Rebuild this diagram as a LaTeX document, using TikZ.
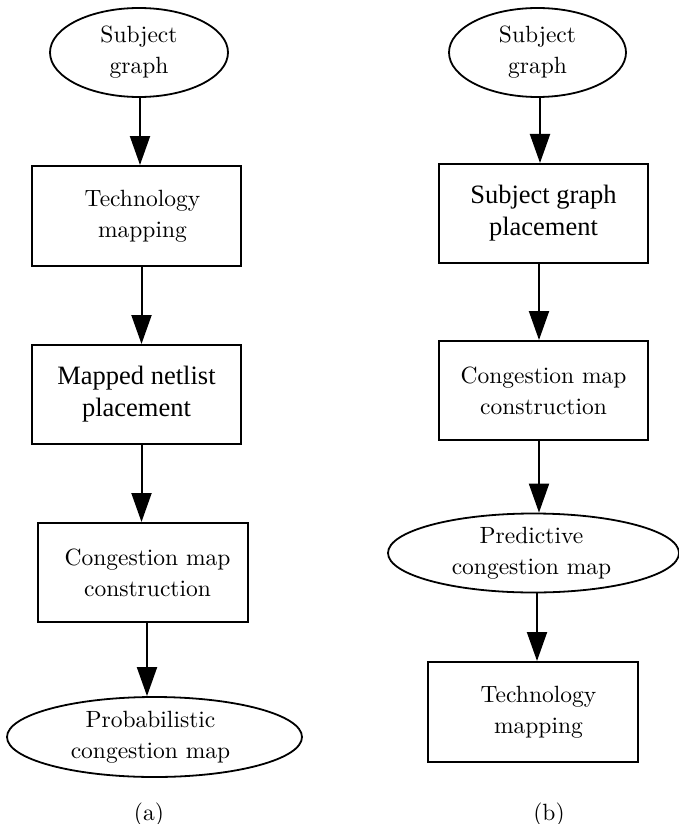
\documentclass[tikz,border=0pt]{standalone}
\usepackage{fontspec}
\newfontfamily\timesfont{Liberation Serif}
\newfontfamily\lmtenfont[Extension=.otf]{lmroman10-regular}
\usetikzlibrary{arrows.meta,shapes.geometric}

\begin{document}
\begin{tikzpicture}[x=1pt,y=-1pt,
  lmtext/.style={font=\lmtenfont\fontsize{23.5}{31}\selectfont, align=center},
  tmtext/.style={font=\timesfont\fontsize{26.5}{32}\selectfont, align=center},
  procbox/.style={draw, line width=2pt, rectangle, inner sep=0pt},
  termnode/.style={draw, line width=1.8pt, ellipse, inner sep=0pt},
  flow/.style={line width=2pt, -{Triangle[length=29pt,width=20pt]}}]

\useasboundingbox (0,0) rectangle (679,824);

% (a) map first, then build the congestion map
\node[termnode, lmtext, minimum width=178pt, minimum height=89pt] (a1) at (139,52.5) {Subject\\graph};
\node[procbox, lmtext, minimum width=209pt, minimum height=100pt] (a2) at (136.5,216) {\hspace*{12pt}Technology\\\hspace*{12pt}mapping};
\node[procbox, tmtext, minimum width=209pt, minimum height=99pt] (a3) at (136.5,394.5) {Mapped netlist\\placement};
\node[procbox, lmtext, minimum width=210pt, minimum height=99pt] (a4) at (143,572.5) {\hspace*{9pt}Congestion map\\\hspace*{9pt}construction};
\node[termnode, lmtext, minimum width=295pt, minimum height=80pt] (a5) at (154.5,737) {Probabilistic\hspace*{8pt}\\congestion map\hspace*{8pt}};
\node[lmtext, anchor=base] (capa) at (149,820) {(a)};

\draw[flow] ([xshift=1pt]a1.south) -- ([xshift=1pt]a1.south |- a2.north);
\draw[flow] ([xshift=5pt]a2.south) -- ([xshift=5pt]a2.south |- a3.north);
\draw[flow] ([xshift=5pt]a3.south) -- ([xshift=5pt]a3.south |- a4.north);
\draw[flow] ([xshift=4pt]a4.south) -- ([xshift=4pt]a4.south |- a5.north);

% (b) place the subject graph, predict congestion, then map
\node[termnode, lmtext, minimum width=177pt, minimum height=89pt] (b1) at (537.5,52.5) {Subject\\graph};
\node[procbox, tmtext, minimum width=209pt, minimum height=99pt] (b2) at (543.5,213.5) {Subject graph\\placement};
\node[procbox, lmtext, minimum width=209pt, minimum height=99pt] (b3) at (543.5,390.5) {Congestion map\\construction};
\node[termnode, lmtext, minimum width=291pt, minimum height=79pt] (b4) at (533.5,553) {Predictive\hspace*{4pt}\\congestion map\hspace*{4pt}};
\node[procbox, lmtext, minimum width=210pt, minimum height=100pt] (b5) at (533,712) {\hspace*{11pt}Technology\\\hspace*{11pt}mapping};
\node[lmtext, anchor=base] (capb) at (549,820) {(b)};

\draw[flow] ([xshift=2.5pt]b1.south) -- ([xshift=2.5pt]b1.south |- b2.north);
\draw[flow] ([xshift=-4.5pt]b2.south) -- ([xshift=-4.5pt]b2.south |- b3.north);
\draw[flow] ([xshift=-4.5pt]b3.south) -- ([xshift=-4.5pt]b3.south |- b4.north);
\draw[flow] ([xshift=3.5pt]b4.south) -- ([xshift=3.5pt]b4.south |- b5.north);
\end{tikzpicture}
\end{document}
